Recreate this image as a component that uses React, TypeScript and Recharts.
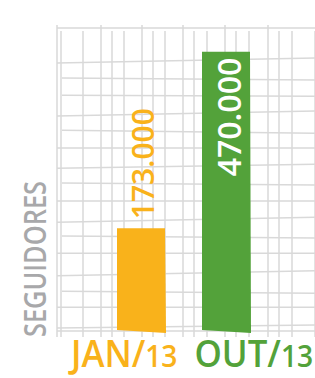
import React from 'react'
import { BarChart, Bar, XAxis, YAxis, CartesianGrid, Cell, LabelList } from 'recharts'

// valores em milhares de seguidores
const meses = ['JAN/13', 'OUT/13']
const seguidores = [173, 470]
const cores = ['#F9B21B', '#53A23A']

// linhas da grade (desenhada "à mão")
const gradeY = [5, 40, 67, 93, 131, 160, 183, 219, 249, 274, 308, 338, 362, 397, 426, 451]
const gradeX = [4, 26, 44, 55, 67, 85, 96, 108, 126, 137, 150, 168, 179, 192, 211, 222, 235]
const inclinacao = [-3, 0, 2, -5, 0, 2, -5, 0, 2, -4, 0, 3, -5, 1, 2, -5]

const data = meses.map((mes, i) => ({ mes, valor: seguidores[i] }))

const FONT = '"Open Sans", sans-serif'
const GRID = '#d9d9d9'

const linhaH = (props: any) => {
  const t = inclinacao[props.index] ?? 0
  return (
    <line
      key={`h-${props.index}`}
      x1={props.x1 + (t > 0 ? 5 : 0)}
      y1={props.y1}
      x2={props.x2}
      y2={props.y2 + t}
      stroke={GRID}
      strokeWidth={1.5}
    />
  )
}

const linhaV = (props: any) => {
  const alta = props.index % 3 === 2
  return (
    <line
      key={`v-${props.index}`}
      x1={props.x1}
      y1={props.y1 + (alta ? -3 : 3)}
      x2={props.x2}
      y2={props.y2 + 6}
      stroke={GRID}
      strokeWidth={1.5}
    />
  )
}

const BarraTorta = (props: any) => {
  const { x, y, width, height, fill } = props
  const pts = [
    [x, y],
    [x + width, y],
    [x + width + 1, y + height + 2],
    [x, y + height - 1],
  ]
    .map((p) => p.join(','))
    .join(' ')
  return <polygon points={pts} fill={fill} />
}

const Rotulo = (props: any) => {
  const { x, y, width, value, index } = props
  const cx = x + width / 2
  const texto = `${value}.000`
  if (index === 0) {
    return (
      <text
        transform={`translate(${cx + 1},${y - 9}) rotate(-90)`}
        textAnchor="start"
        dominantBaseline="central"
        fontFamily={FONT}
        fontSize={30}
        fontWeight={600}
        fill={cores[0]}
      >
        {texto}
      </text>
    )
  }
  return (
    <text
      transform={`translate(${cx + 2},${y + 6}) rotate(-90)`}
      textAnchor="end"
      dominantBaseline="central"
      fontFamily={FONT}
      fontSize={32}
      fontWeight={600}
      fill="#ffffff"
    >
      {texto}
    </text>
  )
}

const TickMes = (props: any) => {
  const { x, y, payload, index } = props
  const [mes, ano] = payload.value.split('/')
  const primeiro = index === 0
  const px = primeiro ? x + 37 : x - 31
  return (
    <g transform={`translate(${px},${y + 34}) scale(0.94,1)`}>
      <text
        textAnchor={primeiro ? 'end' : 'start'}
        fontFamily={FONT}
        fontWeight={600}
        fill={cores[index]}
      >
        <tspan fontSize={37}>{mes}/</tspan>
        <tspan fontSize={30}>{ano}</tspan>
      </text>
    </g>
  )
}

export default function App() {
  return (
    <div style={{ position: 'absolute', left: 0, top: 0, width: 315, height: 378, background: '#fff' }}>
      <BarChart
        width={315}
        height={378}
        data={data}
        margin={{ top: 28, right: 0, left: 57, bottom: 0 }}
      >
        <CartesianGrid
          xAxisId="grade"
          yAxisId={0}
          horizontal={linhaH}
          vertical={linhaV}
        />
        <XAxis
          dataKey="mes"
          height={47}
          axisLine={false}
          tickLine={false}
          tickSize={0}
          interval={0}
          padding={{ left: 41, right: 47 }}
          tick={<TickMes />}
        />
        <XAxis
          xAxisId="grade"
          dataKey="valor"
          type="number"
          domain={[0, 258]}
          ticks={gradeX}
          interval={0}
          allowDataOverflow
          hide
        />
        <YAxis domain={[0, 510]} ticks={gradeY} interval={0} hide />
        <text
          transform="translate(34,259) rotate(-90) scale(0.82,1)"
          textAnchor="middle"
          dominantBaseline="central"
          fontFamily={FONT}
          fontSize={31}
          fontWeight={600}
          fill="#a8a8aa"
        >
          SEGUIDORES
        </text>
        <Bar dataKey="valor" barSize={48} shape={<BarraTorta />} isAnimationActive={false}>
          {data.map((d, i) => (
            <Cell key={d.mes} fill={cores[i]} />
          ))}
          <LabelList dataKey="valor" content={<Rotulo />} />
        </Bar>
      </BarChart>
    </div>
  )
}
